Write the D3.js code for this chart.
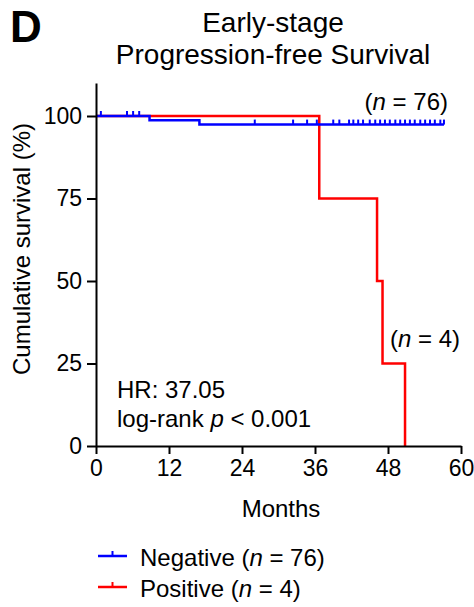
<!DOCTYPE html>
<html>
<head>
<meta charset="utf-8">
<script src="https://cdn.jsdelivr.net/npm/d3@7"></script>
<style>
  body { margin: 0; background: #fff; }
  svg text { font-family: "Liberation Sans", Arial, sans-serif; fill: #000; }
</style>
</head>
<body>
<svg id="chart" width="474" height="607"></svg>
<script>
// survival steps: [month, survival %]
var negSteps = [[0, 100], [8.8, 98.7], [17.0, 97.4]];
var negEnd = 57.2;
var negCensor = [0.8, 5.1, 6.1, 7.1, 26.1, 32.4, 34.7, 36.3, 39.0, 40.0, 41.6, 42.3, 43.1,
  43.9, 45.0, 45.9, 46.7, 47.5, 48.3, 49.2, 50.0, 50.8, 51.6, 52.4, 53.3, 54.1, 54.9, 55.7, 56.6, 57.2];
var posSteps = [[0, 100], [36.7, 75], [46.2, 50], [47.1, 25], [50.8, 0]];
var posEnd = 50.8;

var xTicks = [0, 12, 24, 36, 48, 60];
var yTicks = [0, 25, 50, 75, 100];

var series = [
  {name: "Positive", n: 4, color: "#ff0000", steps: posSteps, end: posEnd, censor: []},
  {name: "Negative", n: 76, color: "#0000ff", steps: negSteps, end: negEnd, censor: negCensor}
];

var margin = {top: 83, right: 13, bottom: 161, left: 96},
    width = 474, height = 607;

var svg = d3.select("#chart");

var x = d3.scaleLinear().domain([0, 60]).range([margin.left, width - margin.right]);
var y = d3.scaleLinear().domain([0, 110]).range([height - margin.bottom, margin.top]);

function survAt(steps, t) {
  var s = steps[0][1];
  steps.forEach(function (d) { if (d[0] <= t) s = d[1]; });
  return s;
}

var line = d3.line()
  .x(function (d) { return x(d[0]); })
  .y(function (d) { return y(d[1]); })
  .curve(d3.curveStepAfter);

series.forEach(function (s) {
  var pts = s.steps.slice();
  pts.push([s.end, s.steps[s.steps.length - 1][1]]);
  svg.append("path")
    .attr("d", line(pts))
    .attr("fill", "none")
    .attr("stroke", s.color)
    .attr("stroke-width", 2.5);

  svg.selectAll(null)
    .data(s.censor)
    .enter().append("line")
    .attr("x1", function (t) { return x(t); })
    .attr("x2", function (t) { return x(t); })
    .attr("y1", function (t) { return y(survAt(s.steps, t)); })
    .attr("y2", function (t) { return y(survAt(s.steps, t)) - 5; })
    .attr("stroke", s.color)
    .attr("stroke-width", 2);
});

// axes
var xAxis = svg.append("g")
  .attr("transform", "translate(0," + y(0) + ")")
  .call(d3.axisBottom(x).tickValues(xTicks).tickSize(8).tickSizeOuter(0).tickPadding(6));
var yAxis = svg.append("g")
  .attr("transform", "translate(" + x(0) + ",0)")
  .call(d3.axisLeft(y).tickValues(yTicks).tickSize(9).tickSizeOuter(0).tickPadding(5));

[xAxis, yAxis].forEach(function (g) {
  g.selectAll("path, line").attr("stroke", "#000").attr("stroke-width", 2);
  g.selectAll("text").style("font-size", "23px").attr("fill", "#000");
  g.attr("font-family", null);
});

// axis titles
svg.append("text")
  .attr("x", 281).attr("y", 517)
  .style("text-anchor", "middle").style("font-size", "24px")
  .text("Months");

svg.append("text")
  .attr("transform", "translate(30,249) rotate(-90)")
  .style("text-anchor", "middle").style("font-size", "24px")
  .text("Cumulative survival (%)");

// title
svg.append("text")
  .attr("x", 10).attr("y", 42)
  .style("font-size", "44px").style("font-weight", "bold")
  .text("D");
svg.append("text")
  .attr("x", 273).attr("y", 32)
  .style("text-anchor", "middle").style("font-size", "28px")
  .text("Early-stage");
svg.append("text")
  .attr("x", 273).attr("y", 64)
  .style("text-anchor", "middle").style("font-size", "28px")
  .text("Progression-free Survival");

// annotations
function nLabel(xp, yp, anchor, n) {
  var t = svg.append("text").attr("x", xp).attr("y", yp)
    .style("text-anchor", anchor).style("font-size", "24px");
  t.append("tspan").text("(");
  t.append("tspan").style("font-style", "italic").text("n");
  t.append("tspan").text(" = " + n + ")");
  return t;
}
nLabel(448, 110, "end", 76);
nLabel(390, 347, "start", 4);

svg.append("text")
  .attr("x", 117).attr("y", 398)
  .style("font-size", "24px")
  .text("HR: 37.05");
var lr = svg.append("text")
  .attr("x", 117).attr("y", 427)
  .style("font-size", "24px");
lr.append("tspan").text("log-rank ");
lr.append("tspan").style("font-style", "italic").text("p");
lr.append("tspan").text(" < 0.001");

// legend
var legend = svg.append("g");
series.slice().reverse().forEach(function (s, i) {
  var ly = 556 + i * 31;
  legend.append("line")
    .attr("x1", 98).attr("x2", 127).attr("y1", ly).attr("y2", ly)
    .attr("stroke", s.color).attr("stroke-width", 2.5);
  legend.append("line")
    .attr("x1", 112.5).attr("x2", 112.5).attr("y1", ly).attr("y2", ly - 5)
    .attr("stroke", s.color).attr("stroke-width", 2);
  var t = legend.append("text")
    .attr("x", 140).attr("y", ly + 10)
    .style("font-size", "24px");
  t.append("tspan").text(s.name + " (");
  t.append("tspan").style("font-style", "italic").text("n");
  t.append("tspan").text(" = " + s.n + ")");
});
</script>
</body>
</html>
